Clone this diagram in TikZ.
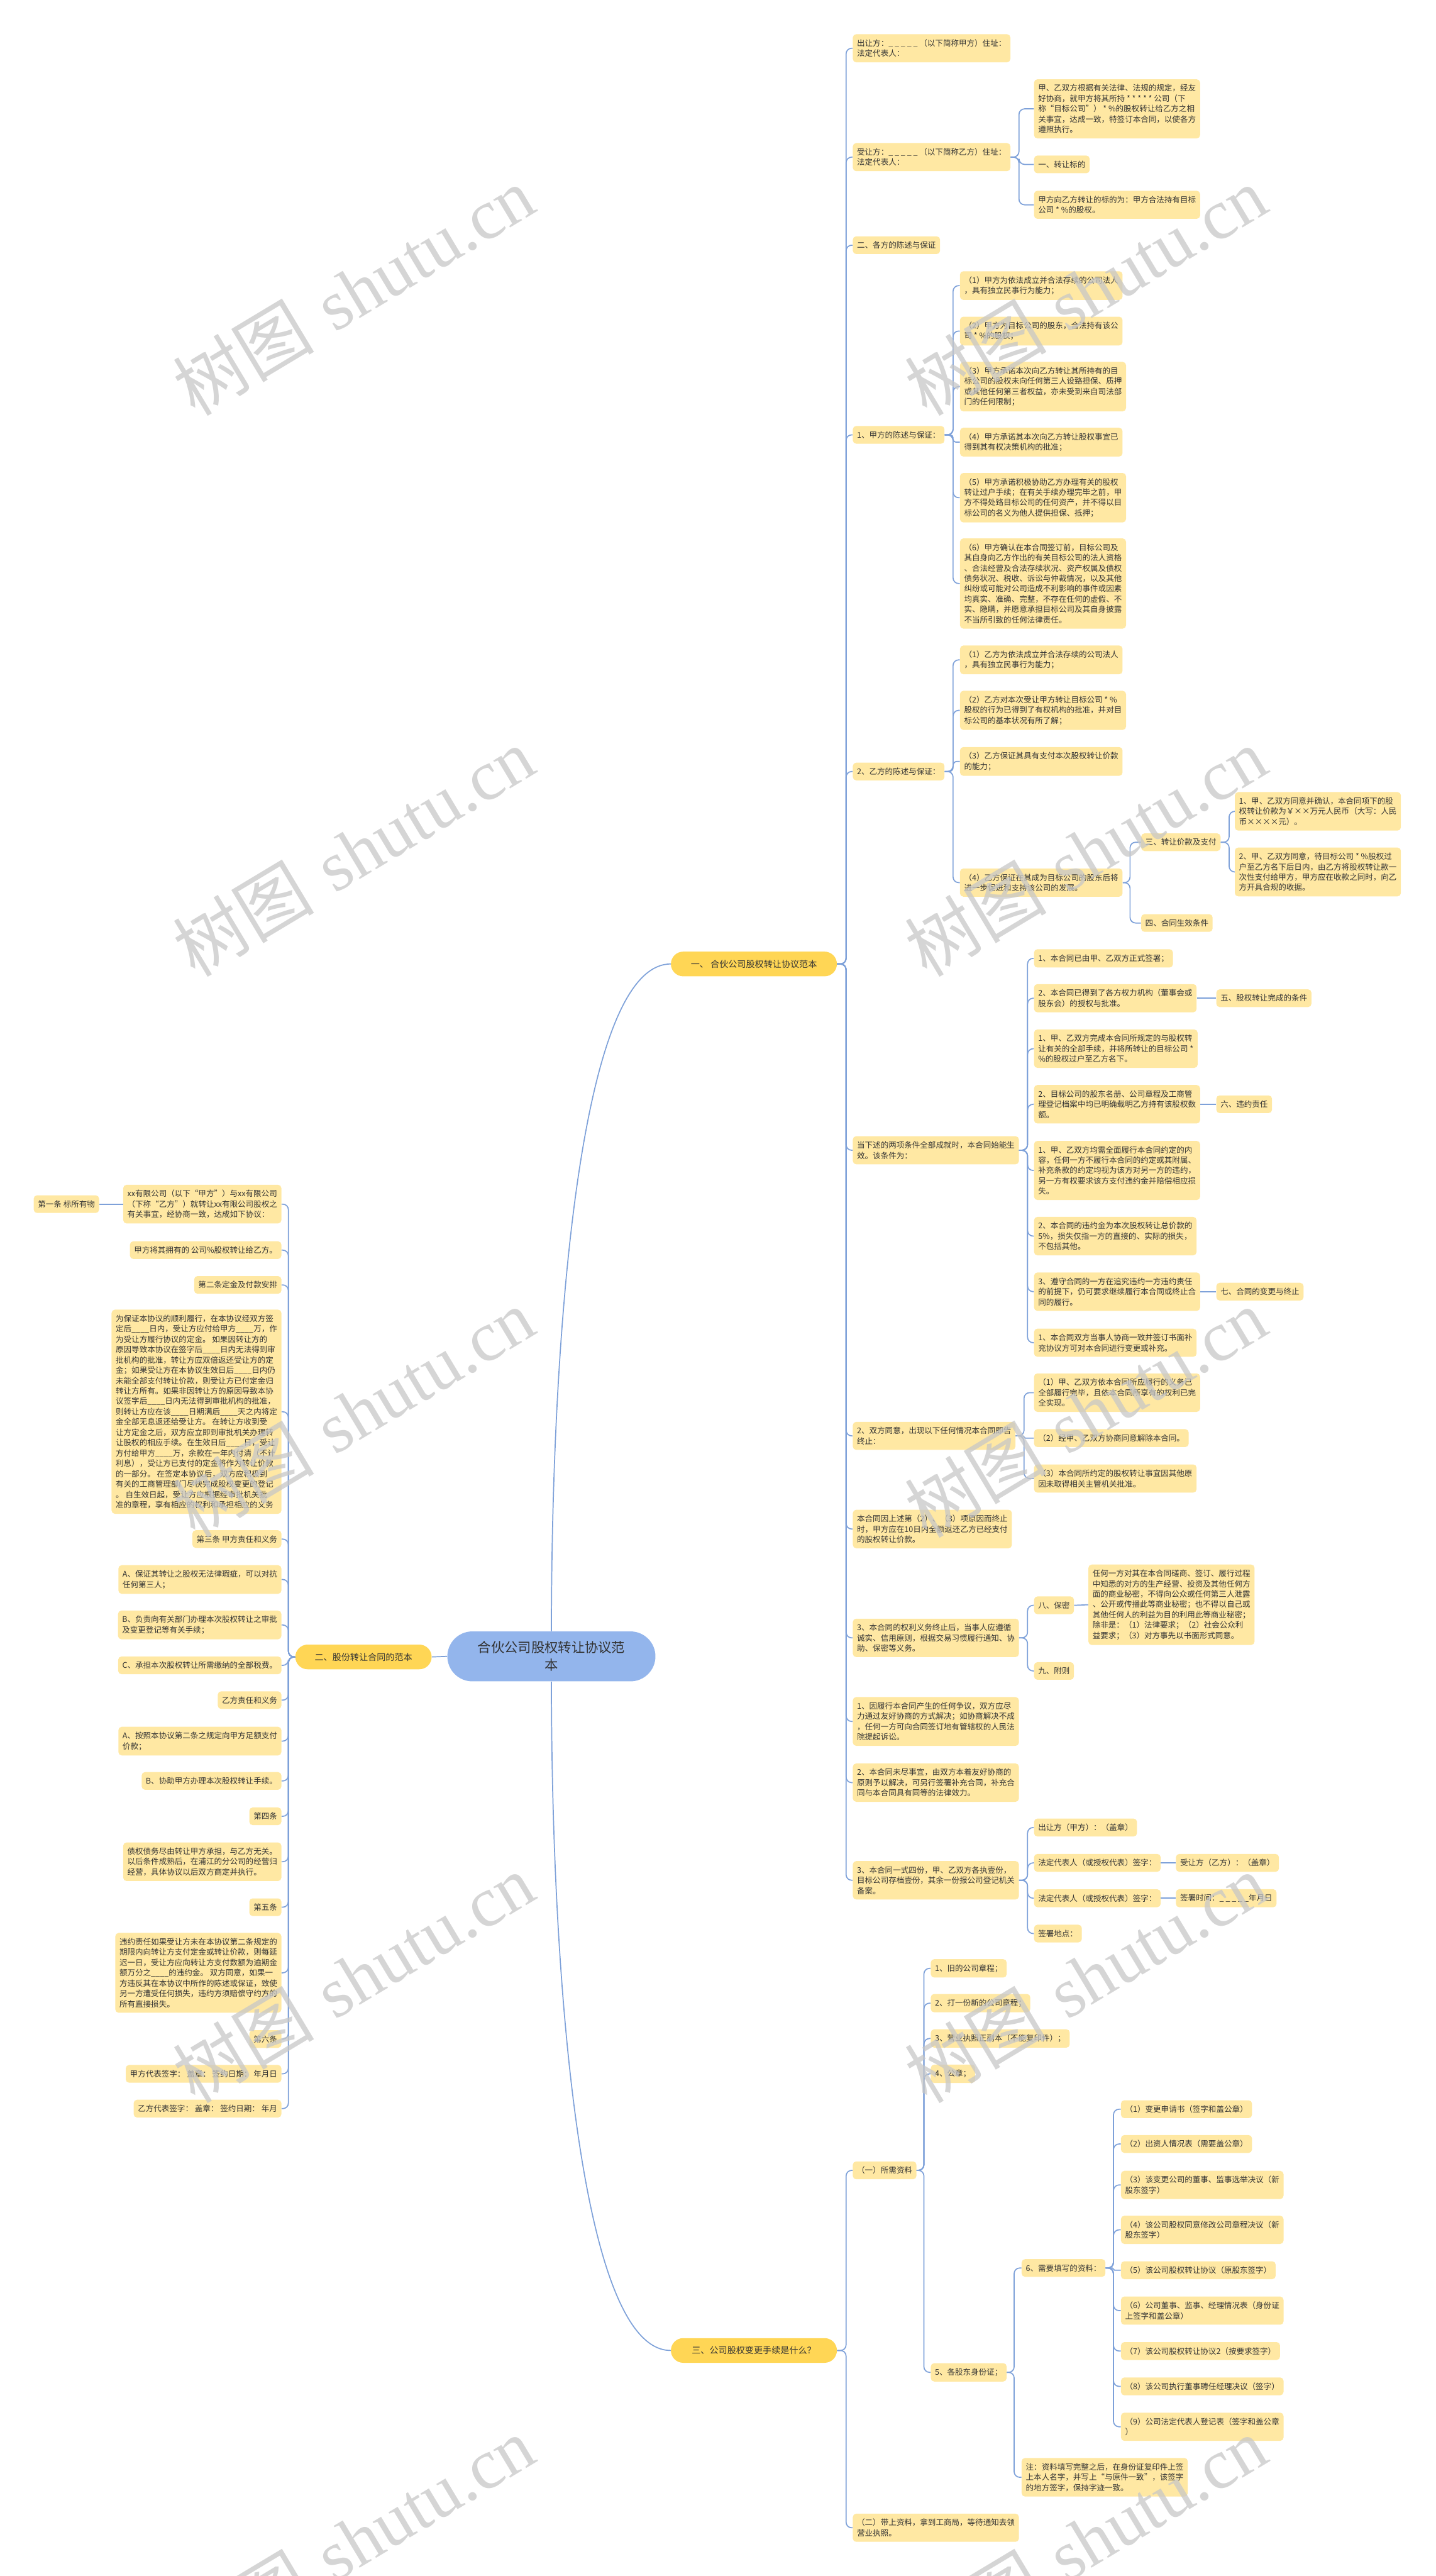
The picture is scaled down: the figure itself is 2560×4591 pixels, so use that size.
\documentclass[tikz,border=0pt]{standalone}
\usepackage{fontspec}
\usepackage{tikz}
\newfontfamily\cjk{Noto Sans CJK SC}
\newfontfamily\wmlatin{Liberation Serif}
\definecolor{leafyellow}{HTML}{FFE8A3}
\definecolor{topicyellow}{HTML}{FFD655}
\definecolor{rootblue}{HTML}{93B5EC}
\definecolor{linkblue}{HTML}{7EA1D9}
\definecolor{inkgray}{HTML}{333333}
\newcommand\leaffont{\cjk\fontsize{8pt}{10.5pt}\selectfont}
\tikzset{
  leaf/.style={fill=leafyellow, rounded corners=0.12cm, align=left, text=inkgray,
    inner xsep=0.15cm, inner ysep=0.185cm, font=\leaffont},
  rleaf/.style={leaf, anchor=west},
  lleaf/.style={leaf, anchor=east},
  topic/.style={fill=topicyellow, rounded corners=0.44cm, minimum height=0.88cm,
    minimum width=5.92cm, text=inkgray, font=\cjk\fontsize{9pt}{11pt}\selectfont},
  rootnode/.style={fill=rootblue, rounded corners=0.89cm, minimum height=1.78cm,
    minimum width=7.42cm, align=center, text=inkgray,
    font=\cjk\fontsize{13.6pt}{18pt}\selectfont},
  link/.style={draw=linkblue, line width=1.1pt, rounded corners=0.2cm},
  wmark/.style={rotate=31, text=black!22, text opacity=0.75, font=\fontsize{72pt}{72pt}\selectfont}
}

\begin{document}
\begin{tikzpicture}[x=0.02cm, y=-0.02cm]
		\useasboundingbox (0,0) rectangle (2560,4591);
		
		%%%%% START %%%%%
		
		\node[rootnode] (root) at (983,2952) {合伙公司股权转让协议范\\本};
		\node[topic] (tA) at (1344,1718) {一、 合伙公司股权转让协议范本};
		\node[topic, minimum width=4.86cm] (tB) at (648,2953) {二、股份转让合同的范本};
		\node[topic] (tC) at (1344,4189) {三、公司股权变更手续是什么？};
		
		\draw[link] (root.north) .. controls (983,2400) and (1030,1718) .. (tA.west);
		\draw[link] (root.south) .. controls (983,3500) and (1030,4189) .. (tC.west);
		\draw[link] (root.west) -- (tB.east);
		
		%%%%% ONE %%%%%
		
		\node[rleaf] (a1) at (1520,86) {出让方：\_ \_ \_ \_ \_ （以下简称甲方）住址：\\法定代表人：};
		\node[rleaf] (a2) at (1520,280) {受让方：\_ \_ \_ \_ \_ （以下简称乙方）住址：\\法定代表人：};
		\node[rleaf] (a2a) at (1843,194) {甲、乙双方根据有关法律、法规的规定，经友\\好协商，就甲方将其所持 * * * * * 公司（下\\称“目标公司”） * \%的股权转让给乙方之相\\关事宜，达成一致，特签订本合同，以使各方\\遵照执行。};
		\node[rleaf] (a2b) at (1843,293) {一、转让标的};
		\node[rleaf] (a2c) at (1843,365) {甲方向乙方转让的标的为：甲方合法持有目标\\公司 * \%的股权。};
		\node[rleaf] (a3) at (1520,437) {二、各方的陈述与保证};
		
		\node[rleaf] (a4) at (1520,775) {1、甲方的陈述与保证：};
		\node[rleaf] (a4a) at (1711,509) {（1）甲方为依法成立并合法存续的公司法人\\，具有独立民事行为能力；};
		\node[rleaf] (a4b) at (1711,590) {（2）甲方为目标公司的股东，合法持有该公\\司 * \%的股权；};
		\node[rleaf] (a4c) at (1711,689) {（3）甲方承诺本次向乙方转让其所持有的目\\标公司的股权未向任何第三人设臵担保、质押\\或其他任何第三者权益，亦未受到来自司法部\\门的任何限制；};
		\node[rleaf] (a4d) at (1711,788) {（4）甲方承诺其本次向乙方转让股权事宜已\\得到其有权决策机构的批准；};
		\node[rleaf] (a4e) at (1711,887) {（5）甲方承诺积极协助乙方办理有关的股权\\转让过户手续；在有关手续办理完毕之前，甲\\方不得处臵目标公司的任何资产，并不得以目\\标公司的名义为他人提供担保、抵押；};
		\node[rleaf] (a4f) at (1711,1040) {（6）甲方确认在本合同签订前，目标公司及\\其自身向乙方作出的有关目标公司的法人资格\\、合法经营及合法存续状况、资产权属及债权\\债务状况、税收、诉讼与仲裁情况，以及其他\\纠纷或可能对公司造成不利影响的事件或因素\\均真实、准确、完整，不存在任何的虚假、不\\实、隐瞒，并愿意承担目标公司及其自身披露\\不当所引致的任何法律责任。};
		
		\node[rleaf] (a5) at (1520,1375) {2、乙方的陈述与保证：};
		\node[rleaf] (a5a) at (1711,1176) {（1）乙方为依法成立并合法存续的公司法人\\，具有独立民事行为能力；};
		\node[rleaf] (a5b) at (1711,1266) {（2）乙方对本次受让甲方转让目标公司 * \%\\股权的行为已得到了有权机构的批准，并对目\\标公司的基本状况有所了解；};
		\node[rleaf] (a5c) at (1711,1357) {（3）乙方保证其具有支付本次股权转让价款\\的能力；};
		\node[rleaf] (a5d) at (1711,1573) {（4）乙方保证在其成为目标公司的股东后将\\进一步促进和支持该公司的发展。};
		\node[rleaf] (pay) at (2034,1501) {三、转让价款及支付};
		\node[rleaf] (pay1) at (2201,1446) {1、甲、乙双方同意并确认，本合同项下的股\\权转让价款为￥××万元人民币（大写：人民\\币××××元）。};
		\node[rleaf] (pay2) at (2201,1554) {2、甲、乙双方同意，待目标公司 * \%股权过\\户至乙方名下后日内，由乙方将股权转让款一\\次性支付给甲方，甲方应在收款之同时，向乙\\方开具合规的收据。};
		\node[rleaf] (valid) at (2034,1645) {四、合同生效条件};
		
		\node[rleaf] (a6) at (1520,2050) {当下述的两项条件全部成就时，本合同始能生\\效。该条件为：};
		\node[rleaf] (a6a) at (1843,1708) {1、本合同已由甲、乙双方正式签署；};
		\node[rleaf] (a6b) at (1843,1779) {2、本合同已得到了各方权力机构（董事会或\\股东会）的授权与批准。};
		\node[rleaf] (done) at (2168,1779) {五、股权转让完成的条件};
		\node[rleaf] (a6c) at (1843,1869) {1、甲、乙双方完成本合同所规定的与股权转\\让有关的全部手续，并将所转让的目标公司 *\\\%的股权过户至乙方名下。};
		\node[rleaf] (a6d) at (1843,1968) {2、目标公司的股东名册、公司章程及工商管\\理登记档案中均已明确载明乙方持有该股权数\\额。};
		\node[rleaf] (breach) at (2168,1968) {六、违约责任};
		\node[rleaf] (a6e) at (1843,2086) {1、甲、乙双方均需全面履行本合同约定的内\\容，任何一方不履行本合同的约定或其附属、\\补充条款的约定均视为该方对另一方的违约，\\另一方有权要求该方支付违约金并赔偿相应损\\失。};
		\node[rleaf] (a6f) at (1843,2203) {2、本合同的违约金为本次股权转让总价款的\\5\%，损失仅指一方的直接的、实际的损失，\\不包括其他。};
		\node[rleaf] (a6g) at (1843,2302) {3、遵守合同的一方在追究违约一方违约责任\\的前提下，仍可要求继续履行本合同或终止合\\同的履行。};
		\node[rleaf] (change) at (2168,2302) {七、合同的变更与终止};
		\node[rleaf] (a6h) at (1843,2393) {1、本合同双方当事人协商一致并签订书面补\\充协议方可对本合同进行变更或补充。};
		
		\node[rleaf] (a7) at (1520,2559) {2、双方同意，出现以下任何情况本合同即告\\终止：};
		\node[rleaf] (a7a) at (1843,2482) {（1）甲、乙双方依本合同所应履行的义务已\\全部履行完毕，且依本合同所享有的权利已完\\全实现。};
		\node[rleaf] (a7b) at (1843,2563) {（2）经甲、乙双方协商同意解除本合同。};
		\node[rleaf] (a7c) at (1843,2635) {（3）本合同所约定的股权转让事宜因其他原\\因未取得相关主管机关批准。};
		\node[rleaf] (a8) at (1520,2725) {本合同因上述第（2）、（3）项原因而终止\\时，甲方应在10日内全额返还乙方已经支付\\的股权转让价款。};
		
		\node[rleaf] (a9) at (1520,2919) {3、本合同的权利义务终止后，当事人应遵循\\诚实、信用原则，根据交易习惯履行通知、协\\助、保密等义务。};
		\node[rleaf] (secret) at (1843,2861) {八、保密};
		\node[rleaf] (secret1) at (1940,2860) {任何一方对其在本合同磋商、签订、履行过程\\中知悉的对方的生产经营、投资及其他任何方\\面的商业秘密，不得向公众或任何第三人泄露\\、公开或传播此等商业秘密；也不得以自己或\\其他任何人的利益为目的利用此等商业秘密；\\除非是：（1）法律要求；（2）社会公众利\\益要求；（3）对方事先以书面形式同意。};
		\node[rleaf] (annex) at (1843,2978) {九、附则};
		\node[rleaf] (a10) at (1520,3068) {1、因履行本合同产生的任何争议，双方应尽\\力通过友好协商的方式解决；如协商解决不成\\，任何一方可向合同签订地有管辖权的人民法\\院提起诉讼。};
		\node[rleaf] (a11) at (1520,3177) {2、本合同未尽事宜，由双方本着友好协商的\\原则予以解决，可另行签署补充合同，补充合\\同与本合同具有同等的法律效力。};
		\node[rleaf] (a12) at (1520,3351) {3、本合同一式四份，甲、乙双方各执壹份，\\目标公司存档壹份，其余一份报公司登记机关\\备案。};
		\node[rleaf] (sig1) at (1843,3257) {出让方（甲方）：（盖章）};
		\node[rleaf] (sig2) at (1843,3320) {法定代表人（或授权代表）签字：};
		\node[rleaf] (sig2a) at (2096,3320) {受让方（乙方）：（盖章）};
		\node[rleaf] (sig3) at (1843,3383) {法定代表人（或授权代表）签字：};
		\node[rleaf] (sig3a) at (2096,3383) {签署时间：\_ \_ \_ \_ \_年月日};
		\node[rleaf] (sig4) at (1843,3446) {签署地点：};
		
		\foreach \c in {a1,a2,a3,a4,a5,a6,a7,a8,a9,a10,a11,a12}
			\draw[link] (tA.east) -- ++(16,0) |- (\c.west);
		\foreach \c in {a2a,a2b,a2c}
			\draw[link] (a2.east) -- ++(15,0) |- (\c.west);
		\foreach \c in {a4a,a4b,a4c,a4e,a4f}
			\draw[link] (a4.east) -- ++(15,0) |- (\c.west);
		\draw[link, rounded corners=0.1cm] (a4.east) -- ++(15,0) |- (a4d.west);
		\foreach \c in {a5a,a5b,a5d}
			\draw[link] (a5.east) -- ++(15,0) |- (\c.west);
		\draw[link, rounded corners=0.14cm] (a5.east) -- ++(15,0) |- (a5c.west);
		\foreach \c in {pay,valid}
			\draw[link] (a5d.east) -- ++(13,0) |- (\c.west);
		\foreach \c in {pay1,pay2}
			\draw[link] (pay.east) -- ++(15,0) |- (\c.west);
		\foreach \c in {a6a,a6b,a6c,a6d,a6e,a6f,a6g,a6h}
			\draw[link] (a6.east) -- ++(15,0) |- (\c.west);
		\draw[link] (a6b.east) -- (done.west);
		\draw[link] (a6d.east) -- (breach.west);
		\draw[link] (a6g.east) -- (change.west);
		\foreach \c in {a7a,a7c}
			\draw[link] (a7.east) -- ++(15,0) |- (\c.west);
		\draw[link, rounded corners=0.04cm] (a7.east) -- ++(15,0) |- (a7b.west);
		\foreach \c in {secret,annex}
			\draw[link] (a9.east) -- ++(15,0) |- (\c.west);
		\draw[link] (secret.east) -- (secret1.west);
		\foreach \c in {sig1,sig2,sig3,sig4}
			\draw[link] (a12.east) -- ++(15,0) |- (\c.west);
		\draw[link] (sig2.east) -- (sig2a.west);
		\draw[link] (sig3.east) -- (sig3a.west);
		
		%%%%% TWO %%%%%
		
		\node[lleaf] (b1) at (502,2146) {xx有限公司（以下“甲方”）与xx有限公司\\（下称“乙方”）就转让xx有限公司股权之\\有关事宜，经协商一致，达成如下协议：};
		\node[lleaf] (b1a) at (177,2146) {第一条 标所有物};
		\node[lleaf] (b2) at (502,2228) {甲方将其拥有的 公司\%股权转让给乙方。};
		\node[lleaf] (b3) at (502,2290) {第二条定金及付款安排};
		\node[lleaf] (b4) at (502,2516) {为保证本协议的顺利履行，在本协议经双方签\\定后\_\_\_\_日内，受让方应付给甲方\_\_\_\_万，作\\为受让方履行协议的定金。 如果因转让方的\\原因导致本协议在签字后\_\_\_\_日内无法得到审\\批机构的批准，转让方应双倍返还受让方的定\\金；如果受让方在本协议生效日后\_\_\_\_日内仍\\未能全部支付转让价款，则受让方已付定金归\\转让方所有。如果非因转让方的原因导致本协\\议签字后\_\_\_\_日内无法得到审批机构的批准，\\则转让方应在该\_\_\_\_日期满后\_\_\_\_天之内将定\\金全部无息返还给受让方。 在转让方收到受\\让方定金之后，双方应立即到审批机关办理转\\让股权的相应手续。在生效日后\_\_\_\_日，受让\\方付给甲方\_\_\_\_万，余款在一年内付清（不计\\利息），受让方已支付的定金将作为转让价款\\的一部分。 在签定本协议后，双方应积极到\\有关的工商管理部门尽快完成股权变更的登记\\。 自生效日起，受让方应根据经审批机关批\\准的章程，享有相应的权利和承担相应的义务};
		\node[lleaf] (b5) at (502,2743) {第三条 甲方责任和义务};
		\node[lleaf] (b6) at (502,2815) {A、保证其转让之股权无法律瑕疵，可以对抗\\任何第三人；};
		\node[lleaf] (b7) at (502,2896) {B、负责向有关部门办理本次股权转让之审批\\及变更登记等有关手续；};
		\node[lleaf] (b8) at (502,2968) {C、承担本次股权转让所需缴纳的全部税费。};
		\node[lleaf] (b9) at (502,3030) {乙方责任和义务};
		\node[lleaf] (b10) at (502,3103) {A、按照本协议第二条之规定向甲方足额支付\\价款；};
		\node[lleaf] (b11) at (502,3174) {B、协助甲方办理本次股权转让手续。};
		\node[lleaf] (b12) at (502,3237) {第四条};
		\node[lleaf] (b13) at (502,3318) {债权债务尽由转让甲方承担，与乙方无关。\\以后条件成熟后，在浦江的分公司的经营归\\经营，具体协议以后双方商定并执行。};
		\node[lleaf] (b14) at (502,3399) {第五条};
		\node[lleaf] (b15) at (502,3516) {违约责任如果受让方未在本协议第二条规定的\\期限内向转让方支付定金或转让价款，则每延\\迟一日，受让方应向转让方支付数额为逾期金\\额万分之\_\_\_\_的违约金。 双方同意，如果一\\方违反其在本协议中所作的陈述或保证，致使\\另一方遭受任何损失，违约方须赔偿守约方的\\所有直接损失。};
		\node[lleaf] (b16) at (502,3634) {第六条};
		\node[lleaf] (b17) at (502,3696) {甲方代表签字： 盖章： 签约日期： 年月日};
		\node[lleaf] (b18) at (502,3758) {乙方代表签字： 盖章： 签约日期： 年月};
		
		\foreach \c in {b1,b2,b3,b4,b5,b6,b7,b8,b9,b10,b11,b12,b13,b14,b15,b16,b17,b18}
			\draw[link] (tB.west) -- ++(-12,0) |- (\c.east);
		\draw[link] (b1.west) -- (b1a.east);
		
		%%%%% THREE %%%%%
		
		\node[rleaf] (c1) at (1520,3868) {（一）所需资料};
		\node[rleaf] (c1a) at (1659,3508) {1、旧的公司章程；};
		\node[rleaf] (c1b) at (1659,3570) {2、打一份新的公司章程；};
		\node[rleaf] (c1c) at (1659,3633) {3、营业执照正副本（不能复印件）；};
		\node[rleaf] (c1d) at (1659,3696) {4、公章；};
		\node[rleaf] (c1e) at (1659,4228) {5、各股东身份证；};
		\node[rleaf] (form) at (1821,4042) {6、需要填写的资料：};
		\node[rleaf] (f1) at (1998,3759) {（1）变更申请书（签字和盖公章）};
		\node[rleaf] (f2) at (1998,3821) {（2）出资人情况表（需要盖公章）};
		\node[rleaf] (f3) at (1998,3894) {（3）该变更公司的董事、监事选举决议（新\\股东签字）};
		\node[rleaf] (f4) at (1998,3974) {（4）该公司股权同意修改公司章程决议（新\\股东签字）};
		\node[rleaf] (f5) at (1998,4046) {（5）该公司股权转让协议（原股东签字）};
		\node[rleaf] (f6) at (1998,4118) {（6）公司董事、监事、经理情况表（身份证\\上签字和盖公章）};
		\node[rleaf] (f7) at (1998,4190) {（7）该公司股权转让协议2（按要求签字）};
		\node[rleaf] (f8) at (1998,4253) {（8）该公司执行董事聘任经理决议（签字）};
		\node[rleaf] (f9) at (1998,4325) {（9）公司法定代表人登记表（签字和盖公章\\）};
		\node[rleaf] (note) at (1821,4415) {注：资料填写完整之后，在身份证复印件上签\\上本人名字，并写上“与原件一致”，该签字\\的地方签字，保持字迹一致。};
		\node[rleaf] (c2) at (1520,4505) {（二）带上资料，拿到工商局，等待通知去领\\营业执照。};
		
		\foreach \c in {c1,c2}
			\draw[link] (tC.east) -- ++(16,0) |- (\c.west);
		\foreach \c in {c1a,c1b,c1c,c1d,c1e}
			\draw[link] (c1.east) -- ++(13,0) |- (\c.west);
		\foreach \c in {form,note}
			\draw[link] (c1e.east) -- ++(13,0) |- (\c.west);
		\foreach \c in {f1,f2,f3,f4,f6,f7,f8,f9}
			\draw[link] (form.east) -- ++(14,0) |- (\c.west);
		\draw[link, rounded corners=0.04cm] (form.east) -- ++(14,0) |- (f5.west);
		
		%%%%% WATERMARK %%%%%
		
		\foreach \wx in {630,1935}
			\foreach \wy in {518,1518,2518,3525,4528}
				\node[wmark] (wm-\wx-\wy) at (\wx,\wy) {{\cjk 树图} {\wmlatin shutu.cn}};
		
		%%%%% END %%%%%
\end{tikzpicture}
\end{document}
